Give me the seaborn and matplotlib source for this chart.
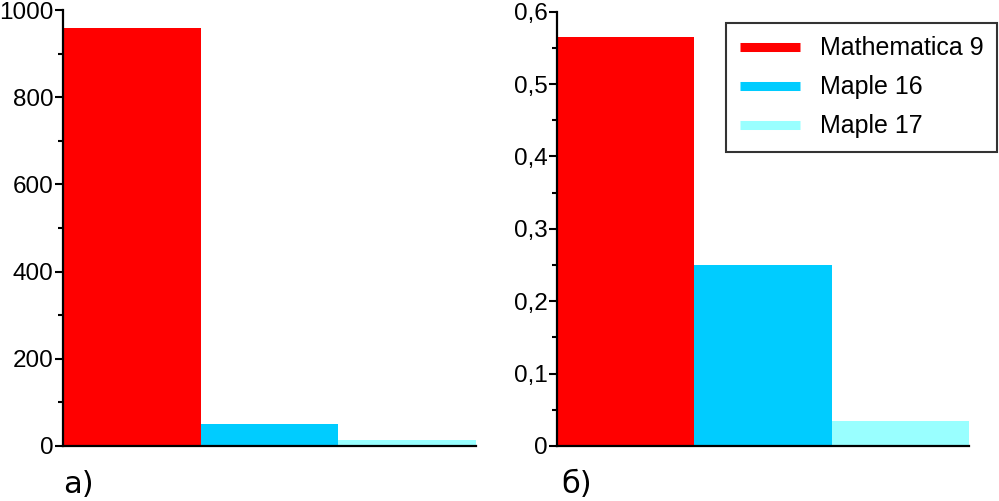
import matplotlib
matplotlib.use("Agg")
import matplotlib.pyplot as plt
import seaborn as sns
import pandas as pd
from matplotlib.lines import Line2D
from matplotlib.ticker import MultipleLocator, FuncFormatter

# data
programs = ["Mathematica 9", "Maple 16", "Maple 17"]
values_a = [958, 50, 13]
values_b = [0.565, 0.250, 0.034]
colors = ["#FF0000", "#00CCFF", "#99FFFF"]
panel_labels = ["а)", "б)"]

sns.set_theme(style="white")
plt.rcParams["font.family"] = ["Liberation Sans", "DejaVu Sans"]
plt.rcParams["text.color"] = "black"

fig = plt.figure(figsize=(9.99, 5.01), dpi=100)
ax_a = fig.add_axes([0.0631, 0.1098, 0.4134, 0.8702])
ax_b = fig.add_axes([0.5576, 0.1098, 0.4124, 0.8668])

palette = dict(zip(programs, colors))


def draw_panel(ax, values, ymax, major, minor, fmt):
    df = pd.DataFrame({"program": programs, "value": values})
    sns.barplot(data=df, x="program", y="value", hue="program", palette=palette,
                width=1.0, dodge=False, saturation=1, legend=False, ax=ax,
                linewidth=0)
    ax.set_xlim(-0.5, 2.5)
    ax.set_ylim(0, ymax)
    ax.set_xlabel("")
    ax.set_ylabel("")
    ax.set_xticks([])
    ax.yaxis.set_major_locator(MultipleLocator(major))
    ax.yaxis.set_minor_locator(MultipleLocator(minor))
    ax.yaxis.set_major_formatter(FuncFormatter(fmt))
    ax.tick_params(axis="y", which="major", direction="out", length=6, width=1.5,
                   left=True, labelsize=17.5, pad=1, colors="black")
    ax.tick_params(axis="y", which="minor", direction="out", length=3.5, width=1.5,
                   left=True, colors="black")
    for side in ["top", "right"]:
        ax.spines[side].set_visible(False)
    for side in ["left", "bottom"]:
        ax.spines[side].set_color("black")
        ax.spines[side].set_linewidth(1.6)


draw_panel(ax_a, values_a, 1000, 200, 100, lambda v, p: f"{v:.0f}")
draw_panel(ax_b, values_b, 0.6, 0.1, 0.05,
           lambda v, p: "0" if abs(v) < 1e-9 else f"{v:.1f}".replace(".", ","))

# panel captions
fig.text(0.063, 0.016, panel_labels[0], fontsize=22, family="DejaVu Sans",
         color="black")
fig.text(0.562, 0.016, panel_labels[1], fontsize=22, family="DejaVu Sans",
         color="black")

handles = [Line2D([0], [0], color=c, lw=6.5, solid_capstyle="butt") for c in colors]
leg = fig.legend(handles, programs, loc="upper right",
                 bbox_to_anchor=(0.998, 0.955), fontsize=18,
                 frameon=True, fancybox=False, handlelength=2.4,
                 handletextpad=0.8, labelspacing=0.6, borderpad=0.55,
                 borderaxespad=0)
leg.get_frame().set_edgecolor("black")
leg.get_frame().set_linewidth(1.5)
for t in leg.get_texts():
    t.set_color("black")

fig.savefig("out.png", dpi=100)
